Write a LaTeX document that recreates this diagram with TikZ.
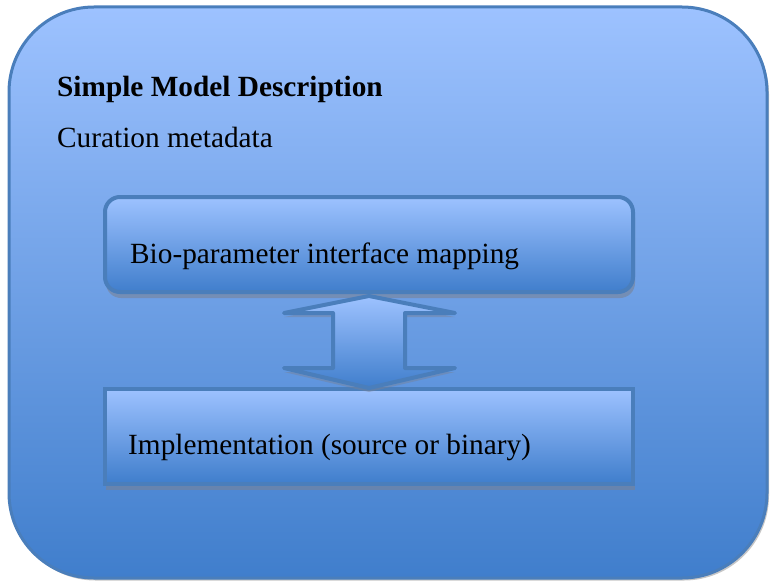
\documentclass[tikz,border=0pt]{standalone}
\usepackage{fontspec}
\setmainfont{Liberation Serif}
\definecolor{lightb}{RGB}{157,194,255}
\definecolor{darkb}{RGB}{64,126,204}
\definecolor{edgeb}{RGB}{74,126,187}
\definecolor{shadowg}{RGB}{120,130,150}
\tikzset{
  outerbox/.style={draw=edgeb, line width=3pt, rounded corners=85pt, top color=lightb, bottom color=darkb, minimum width=758pt, minimum height=571pt, inner sep=0pt},
  innerbox/.style={draw=edgeb, line width=4pt, top color=lightb, bottom color=darkb, minimum width=528pt, minimum height=95pt, inner sep=0pt},
  boxshadow/.style={fill=shadowg, opacity=0.6},
  txt/.style={anchor=base west, inner sep=0pt, font=\fontsize{29.3}{35}\selectfont, text=black},
  blockarrow/.style={draw=edgeb, line width=4pt, top color=lightb, bottom color=darkb, line join=round}
}
\begin{document}
\begin{tikzpicture}[x=1pt,y=-1pt]
\useasboundingbox (0,0) rectangle (770,583);
% outer shadow
\fill[gray!45, rounded corners=85pt] (10.5,9.5) rectangle (769,580.5);
\node[outerbox] (outer) at (388,292.5) {};
% box shadows
\fill[boxshadow, rounded corners=15pt] (106,203) rectangle (635,298);
\fill[boxshadow] (106,394) rectangle (635,490);
\node[innerbox, rounded corners=15pt] (b1) at (369,244.5) {};
\node[innerbox] (b2) at (369,436) {};
% arrow
\coordinate (atop) at (369,296);
\coordinate (abot) at (369,388);
\fill[boxshadow, opacity=0.45] ([yshift=-4pt]atop) -- ++(86,17) -- ++(-50,0) -- ++(0,55) -- ++(50,0) -- ([yshift=-4pt]abot) -- ++(-85,-20) -- ++(49,0) -- ++(0,-55) -- ++(-49,0) -- cycle;
\path[blockarrow] (atop) -- ++(86,17) -- ++(-50,0) -- ++(0,55) -- ++(50,0) -- (abot) -- ++(-85,-20) -- ++(49,0) -- ++(0,-55) -- ++(-49,0) -- cycle;
% texts
\node[txt, font=\fontsize{29.3}{35}\selectfont\bfseries] (title) at (57,97) {Simple Model Description};
\node[txt] (cur) at (57,147) {Curation metadata};
\node[txt] (t1) at (130,263) {Bio-parameter interface mapping};
\node[txt] (t2) at (128,454) {Implementation (source or binary)};
\end{tikzpicture}
\end{document}
